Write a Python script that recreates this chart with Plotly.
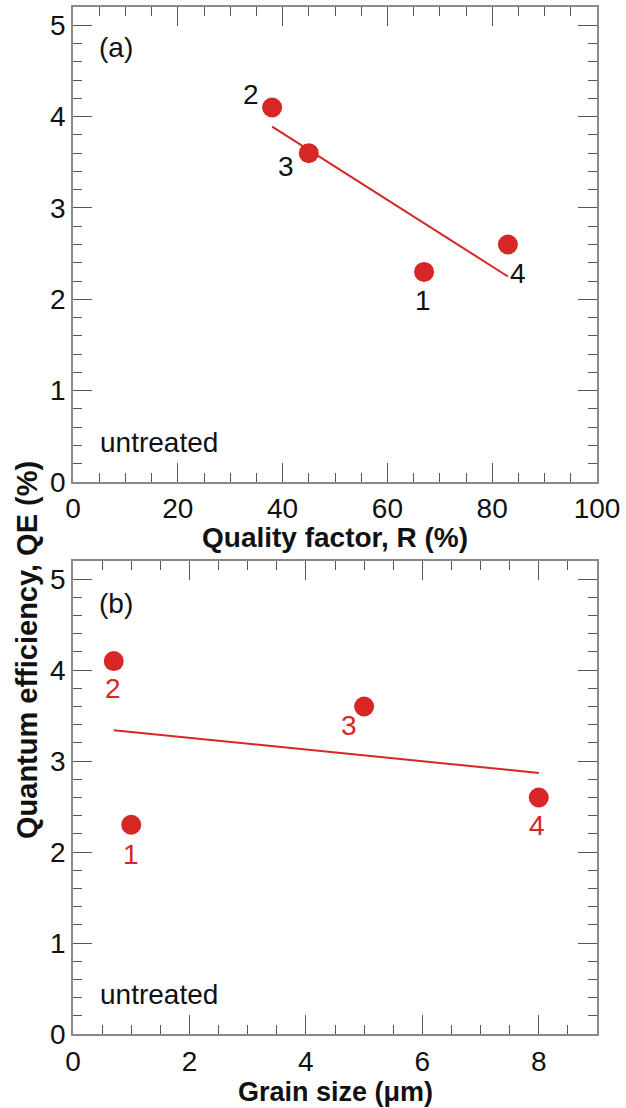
import plotly.graph_objects as go

# ---- data ----
labels = ["1", "2", "3", "4"]
quality_R = [67, 38, 45, 83]          # Quality factor R (%)
grain_size = [1.0, 0.7, 5.0, 8.0]     # Grain size (um)
qe = [2.3, 4.1, 3.6, 2.6]             # Quantum efficiency QE (%)

fit_a_x = [38, 83]
fit_a_y = [3.89, 2.25]
fit_b_x = [0.7, 8.0]
fit_b_y = [3.34, 2.87]

xticks_a = [0, 20, 40, 60, 80, 100]
xticks_b = [0, 2, 4, 6, 8]
yticks = [0, 1, 2, 3, 4, 5]

# ---- style ----
RED = "rgb(214,38,38)"
FONT = "Liberation Sans, Arial, sans-serif"
FS = 28
# label offsets in px (dx, dy) relative to the point
off_a = {"1": (-1, 29), "2": (-21, -13), "3": (-23, 13), "4": (10, 29)}
off_b = {"1": (0, 30), "2": (-1, 27), "3": (-15, 19), "4": (-2, 28)}

W, H = 626, 1108
ML, MR, MT, MB = 73, 29, 7, 74
pw, ph = W - ML - MR, H - MT - MB


def px_to_paper(xp, yp):
    return (xp - ML) / pw, (H - MB - yp) / ph


fig = go.Figure()

fig.add_trace(go.Scatter(x=fit_a_x, y=fit_a_y, mode="lines",
                         line=dict(color=RED, width=2), xaxis="x", yaxis="y",
                         hoverinfo="skip", showlegend=False))
fig.add_trace(go.Scatter(x=quality_R, y=qe, mode="markers",
                         marker=dict(color=RED, size=20), xaxis="x", yaxis="y",
                         showlegend=False))
fig.add_trace(go.Scatter(x=fit_b_x, y=fit_b_y, mode="lines",
                         line=dict(color=RED, width=2), xaxis="x2", yaxis="y2",
                         hoverinfo="skip", showlegend=False))
fig.add_trace(go.Scatter(x=grain_size, y=qe, mode="markers",
                         marker=dict(color=RED, size=20), xaxis="x2", yaxis="y2",
                         showlegend=False))

annotations = []
for lab, xv, yv in zip(labels, quality_R, qe):
    dx, dy = off_a[lab]
    annotations.append(dict(x=xv, y=yv, xref="x", yref="y", text=lab,
                            showarrow=False, xshift=dx, yshift=-dy,
                            font=dict(family=FONT, size=FS, color="#111")))
for lab, xv, yv in zip(labels, grain_size, qe):
    dx, dy = off_b[lab]
    annotations.append(dict(x=xv, y=yv, xref="x2", yref="y2", text=lab,
                            showarrow=False, xshift=dx, yshift=-dy,
                            font=dict(family=FONT, size=FS, color=RED)))


def pnote(text, xp, yp, size=FS, bold=False, angle=0, anchor="center"):
    x, y = px_to_paper(xp, yp)
    return dict(x=x, y=y, xref="paper", yref="paper",
                text=f"<b>{text}</b>" if bold else text, showarrow=False,
                xanchor=anchor, yanchor="middle", textangle=angle,
                font=dict(family=FONT, size=size, color="#111"))


annotations += [
    pnote("(a)", 97, 48, anchor="left"),
    pnote("untreated", 98, 442, anchor="left"),
    pnote("(b)", 97, 603, anchor="left"),
    pnote("untreated", 98, 994, anchor="left"),
    pnote("Quality factor, R (%)", 335, 537, size=28, bold=True),
    pnote("Grain size (μm)", 335, 1092, size=27, bold=True),
    pnote("Quantum efficiency, QE (%)", 27, 650, size=29, bold=True, angle=-90),
]

axis_common = dict(showgrid=False, zeroline=False, showline=True,
                   linecolor="#8a8a8a", linewidth=1.5, mirror="ticks",
                   ticks="inside", ticklen=19, tickwidth=1.2, tickcolor="#555",
                   automargin=False,
                   tickfont=dict(family=FONT, size=FS, color="#111"))

ya_lo, ya_hi = px_to_paper(0, 482)[1], px_to_paper(0, 7)[1]
yb_lo, yb_hi = px_to_paper(0, 1034)[1], px_to_paper(0, 561)[1]

minor_x_a = dict(dtick=5, ticks="inside", ticklen=9, tickcolor="#555", tickwidth=1)
minor_x_b = dict(dtick=0.5, ticks="inside", ticklen=9, tickcolor="#555", tickwidth=1)
minor_y = dict(dtick=0.2, ticks="inside", ticklen=9, tickcolor="#555", tickwidth=1)

fig.update_layout(
    width=W, height=H,
    margin=dict(l=ML, r=MR, t=MT, b=MB, autoexpand=False),
    paper_bgcolor="white", plot_bgcolor="white",
    xaxis=dict(axis_common, range=[0, 100], tickvals=xticks_a, anchor="y",
               domain=[0, 1], ticklabelstandoff=1, minor=minor_x_a),
    yaxis=dict(axis_common, range=[0, 5.2], tickvals=yticks, anchor="x",
               domain=[ya_lo, ya_hi], ticklabelstandoff=0, minor=minor_y),
    xaxis2=dict(axis_common, range=[0, 9], tickvals=xticks_b, anchor="y2",
                domain=[0, 1], ticklabelstandoff=2, minor=minor_x_b),
    yaxis2=dict(axis_common, range=[0, 5.2], tickvals=yticks, anchor="x2",
                domain=[yb_lo, yb_hi], ticklabelstandoff=0, minor=minor_y),
    annotations=annotations,
    showlegend=False,
)

fig.write_html("out.html",
               config={"displayModeBar": False},
               post_script="document.body.style.margin='0';"
                           "document.body.style.overflow='hidden';")
